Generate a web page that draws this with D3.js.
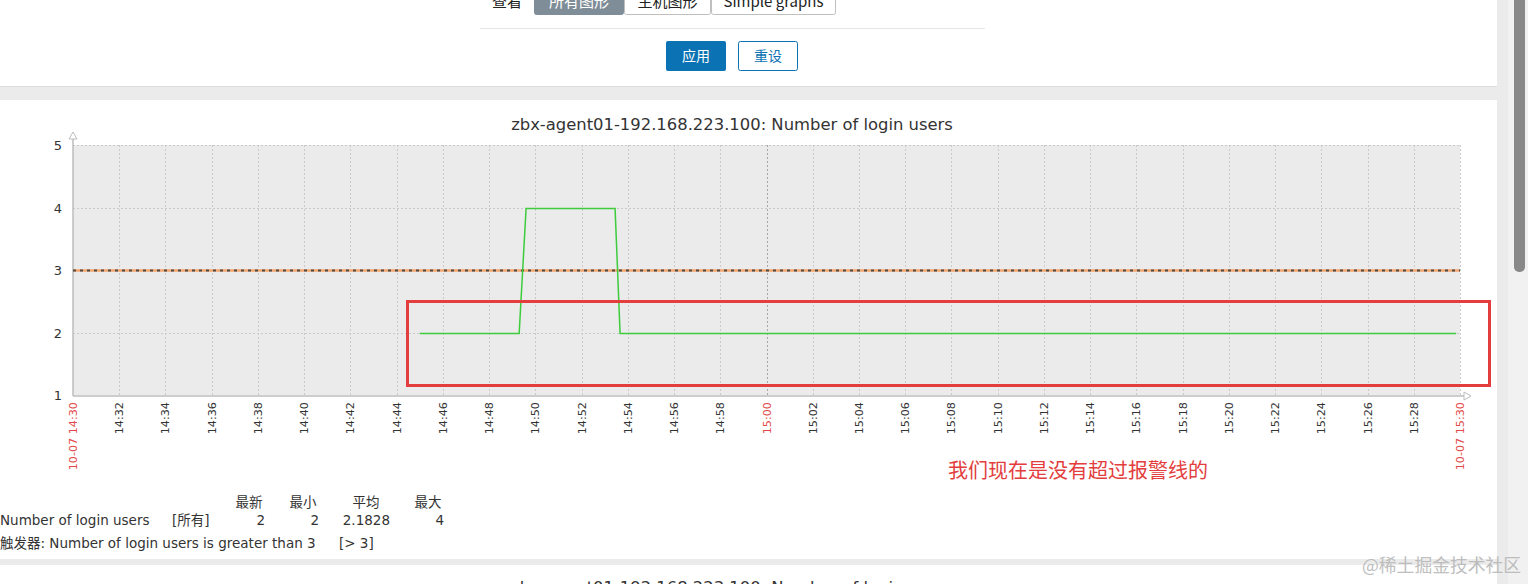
<!DOCTYPE html>
<html>
<head>
<meta charset="utf-8">
<script src="https://cdn.jsdelivr.net/npm/d3@7"></script>
<style>
  html, body { margin: 0; padding: 0; background: #ebebeb; overflow: hidden; }
  svg { display: block; }
</style>
</head>
<body>
<svg id="chart" width="1528" height="584"></svg>
<script>
// ---------- data ----------
const chartTitle = "zbx-agent01-192.168.223.100: Number of login users";
const xTickLabels = ["14:30","14:32","14:34","14:36","14:38","14:40","14:42","14:44","14:46","14:48",
  "14:50","14:52","14:54","14:56","14:58","15:00","15:02","15:04","15:06","15:08",
  "15:10","15:12","15:14","15:16","15:18","15:20","15:22","15:24","15:26","15:28","15:30"];
const xEdgeLabels = {"14:30": "10-07 14:30", "15:30": "10-07 15:30"};
const xRedLabels = ["14:30", "15:00", "15:30"];
const yTicks = [1, 2, 3, 4, 5];
const seriesTimes = ["14:45:00", "14:49:18", "14:49:36", "14:53:27", "14:53:40", "15:29:50"];
const seriesValues = [2, 2, 4, 4, 2, 2];
const triggerValue = 3;
const legendHeaders = ["最新", "最小", "平均", "最大"];
const legendItem = "Number of login users";
const legendScope = "[所有]";
const legendValues = ["2", "2", "2.1828", "4"];
const triggerText = "触发器: Number of login users is greater than 3";
const triggerCond = "[> 3]";
const annotationText = "我们现在是没有超过报警线的";
const watermark = "@稀土掘金技术社区";

// ---------- setup ----------
const svg = d3.select("#chart");
const day = "2023-10-07T";
const parse = t => new Date(day + (t.length === 5 ? t + ":00" : t));
const x = d3.scaleTime().domain([parse("14:30"), parse("15:30")]).range([73, 1460]);
const y = d3.scaleLinear().domain([1, 5]).range([395, 145]);
const font = "'DejaVu Sans', 'Noto Sans CJK SC', sans-serif";
const cjk = "'Noto Sans CJK SC', 'DejaVu Sans', sans-serif";

// ---------- page panels ----------
svg.append("rect").attr("x", 0).attr("y", 0).attr("width", 1497).attr("height", 86).attr("fill", "#fff");
svg.append("line").attr("x1", 0).attr("x2", 1497).attr("y1", 86.5).attr("y2", 86.5).attr("stroke", "#dcdcdc");
svg.append("rect").attr("x", 0).attr("y", 100).attr("width", 1497).attr("height", 459).attr("fill", "#fff");
svg.append("rect").attr("x", 0).attr("y", 565).attr("width", 1497).attr("height", 19).attr("fill", "#fff");
// scrollbar
svg.append("rect").attr("x", 1508).attr("y", 0).attr("width", 20).attr("height", 584).attr("fill", "#f1f1f1");
svg.append("rect").attr("x", 1514).attr("y", -6).attr("width", 11).attr("height", 278).attr("rx", 5).attr("fill", "#888");

// header filter controls (scrolled, partly above the view as in the screenshot)
svg.append("text").attr("x", 492).attr("y", 7).attr("font-family", cjk).attr("font-size", 15).attr("fill", "#222").text("查看");
const tabs = [
  {label: "所有图形", x0: 534, x1: 624, active: true},
  {label: "主机图形", x0: 624, x1: 711, active: false},
  {label: "Simple graphs", x0: 711, x1: 836, active: false}
];
tabs.forEach(t => {
  svg.append("rect").attr("x", t.x0 + 0.5).attr("y", -10).attr("width", t.x1 - t.x0 - 1).attr("height", 24.5)
    .attr("rx", 2).attr("fill", t.active ? "#7f8d98" : "#fff").attr("stroke", t.active ? "#7f8d98" : "#bfbfbf");
  svg.append("text").attr("x", (t.x0 + t.x1) / 2).attr("y", 7).attr("text-anchor", "middle")
    .attr("font-family", cjk).attr("font-size", 15).attr("fill", t.active ? "#fff" : "#222").text(t.label);
});
svg.append("line").attr("x1", 480).attr("x2", 985).attr("y1", 28.5).attr("y2", 28.5).attr("stroke", "#e6e6e6");
svg.append("rect").attr("x", 666).attr("y", 41).attr("width", 60).attr("height", 30).attr("rx", 2).attr("fill", "#0b73b3");
svg.append("text").attr("x", 696).attr("y", 61).attr("text-anchor", "middle").attr("font-family", cjk)
  .attr("font-size", 14).attr("fill", "#fff").text("应用");
svg.append("rect").attr("x", 738.5).attr("y", 41.5).attr("width", 59).attr("height", 29).attr("rx", 2)
  .attr("fill", "#fff").attr("stroke", "#0b73b3");
svg.append("text").attr("x", 768).attr("y", 61).attr("text-anchor", "middle").attr("font-family", cjk)
  .attr("font-size", 14).attr("fill", "#0b73b3").text("重设");

// ---------- chart ----------
svg.append("text").attr("x", 732).attr("y", 130).attr("text-anchor", "middle").attr("font-family", font)
  .attr("font-size", 16.4).attr("fill", "#333").text(chartTitle);

const [px0, px1] = x.range();
const [py1, py0] = y.range();
svg.append("rect").attr("x", px0).attr("y", py0).attr("width", px1 - px0).attr("height", py1 - py0).attr("fill", "#ebebeb");

// vertical grid
const g = svg.append("g");
xTickLabels.forEach(lbl => {
  const xx = Math.round(x(parse(lbl))) + 0.5;
  if (lbl === "14:30") return;
  g.append("line").attr("x1", xx).attr("x2", xx).attr("y1", py0).attr("y2", py1)
    .attr("stroke", lbl === "15:00" ? "#a8a8a8" : "#cacaca").attr("stroke-dasharray", "2,2");
});
// horizontal grid
yTicks.forEach(v => {
  if (v === 1) return;
  const yy = Math.round(y(v)) + 0.5;
  g.append("line").attr("x1", px0).attr("x2", px1).attr("y1", yy).attr("y2", yy)
    .attr("stroke", "#cacaca").attr("stroke-dasharray", "2,2");
});

// axes
svg.append("line").attr("x1", px0).attr("x2", px0).attr("y1", py0 - 6).attr("y2", py1 + 1)
  .attr("stroke", "#bdbdbd").attr("stroke-width", 1.5);
svg.append("path").attr("d", `M${px0 - 4},${py0 - 6}L${px0 + 4},${py0 - 6}L${px0},${py0 - 13}Z`)
  .attr("fill", "#fff").attr("stroke", "#bdbdbd");
svg.append("line").attr("x1", px0).attr("x2", px1 + 4).attr("y1", py1 + 1).attr("y2", py1 + 1)
  .attr("stroke", "#bdbdbd").attr("stroke-width", 1.5);
svg.append("path").attr("d", `M${px1 + 4},${py1 - 3}L${px1 + 4},${py1 + 5}L${px1 + 11},${py1 + 1}Z`)
  .attr("fill", "#fff").attr("stroke", "#bdbdbd");

// y labels
yTicks.forEach(v => {
  svg.append("text").attr("x", 62).attr("y", y(v) + 5).attr("text-anchor", "end").attr("font-family", font)
    .attr("font-size", 13).attr("fill", "#333").text(v);
});

// x labels
xTickLabels.forEach(lbl => {
  const xx = x(parse(lbl));
  svg.append("text").attr("transform", `translate(${xx + 4},402) rotate(-90)`).attr("text-anchor", "end")
    .attr("font-family", font).attr("font-size", 11.2)
    .attr("fill", xRedLabels.includes(lbl) ? "#e24a4a" : "#333")
    .text(xEdgeLabels[lbl] || lbl);
});

// trigger line
const ty = Math.round(y(triggerValue)) + 0.5;
svg.append("line").attr("x1", px0).attr("x2", px1).attr("y1", ty).attr("y2", ty)
  .attr("stroke", "#f4a66c").attr("stroke-width", 2.5);
svg.append("line").attr("x1", px0).attr("x2", px1).attr("y1", ty).attr("y2", ty)
  .attr("stroke", "#4a4a4a").attr("stroke-width", 2).attr("stroke-dasharray", "3,4");

// series line
const pts = seriesTimes.map((t, i) => [parse(t), seriesValues[i]]);
svg.append("path").datum(pts)
  .attr("d", d3.line().x(d => x(d[0])).y(d => Math.round(y(d[1])) + 0.5))
  .attr("fill", "none").attr("stroke", "#3ccc3c").attr("stroke-width", 1.5);

// annotation box and text
svg.append("rect").attr("x", 407.5).attr("y", 301.5).attr("width", 1082).attr("height", 84)
  .attr("fill", "none").attr("stroke", "#e33d3d").attr("stroke-width", 3);
svg.append("text").attr("x", 948).attr("y", 478).attr("font-family", cjk).attr("font-size", 20)
  .attr("fill", "#e33d3d").text(annotationText);

// legend
const hdrX = [249, 303, 366, 428];
legendHeaders.forEach((h, i) => {
  svg.append("text").attr("x", hdrX[i]).attr("y", 507).attr("text-anchor", "middle").attr("font-family", cjk)
    .attr("font-size", 13.5).attr("fill", "#333").text(h);
});
const lf = 13.5;
svg.append("text").attr("x", 0).attr("y", 525).attr("font-family", font).attr("font-size", lf).attr("fill", "#333").text(legendItem);
svg.append("text").attr("x", 172).attr("y", 525).attr("font-family", font).attr("font-size", lf).attr("fill", "#333").text(legendScope);
const valX = [265, 319, 390, 444];
legendValues.forEach((v, i) => {
  svg.append("text").attr("x", valX[i]).attr("y", 525).attr("text-anchor", "end").attr("font-family", font)
    .attr("font-size", lf).attr("fill", "#333").text(v);
});
svg.append("text").attr("x", 0).attr("y", 548).attr("font-family", font).attr("font-size", lf).attr("fill", "#333").text(triggerText);
svg.append("text").attr("x", 339).attr("y", 548).attr("font-family", font).attr("font-size", lf).attr("fill", "#333").text(triggerCond);

// next graph title (cut off at the bottom edge, as in the screenshot)
svg.append("text").attr("x", 732).attr("y", 593).attr("text-anchor", "middle").attr("font-family", font)
  .attr("font-size", 16.4).attr("fill", "#333").text(chartTitle);

// watermark
svg.append("text").attr("x", 1362).attr("y", 572).attr("font-family", cjk).attr("font-size", 17.8)
  .attr("fill", "#b8b8b8").attr("opacity", 0.9).text(watermark);
</script>
</body>
</html>
